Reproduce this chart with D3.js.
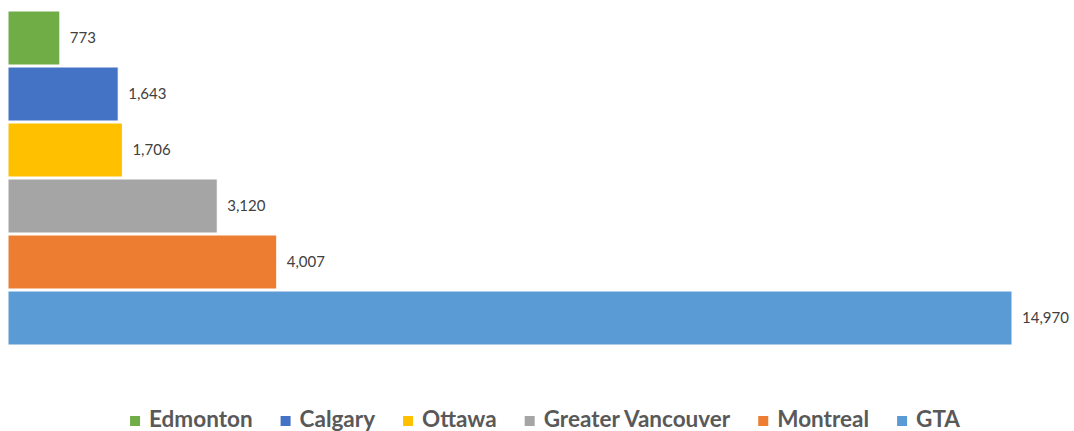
<!DOCTYPE html>
<html>
<head>
<meta charset="utf-8">
<script src="https://cdn.jsdelivr.net/npm/d3@7"></script>
<style>
  body { margin: 0; background: #fff; }
  #wrapper { width: 1074px; height: 431px; }
</style>
</head>
<body>
<div id="wrapper"></div>
<script>
const cities = ["Edmonton", "Calgary", "Ottawa", "Greater Vancouver", "Montreal", "GTA"]
const counts = [773, 1643, 1706, 3120, 4007, 14970]
const colors = ["#70AD47", "#4472C4", "#FFC000", "#A5A5A5", "#ED7D31", "#5B9BD5"]

const dataset = cities.map((c, i) => ({city: c, count: counts[i], color: colors[i]}))

function drawChart() {
    const dimensions = {
        width: 1074,
        height: 431,
        margin: {top: 10, right: 62, bottom: 85, left: 8},
    }

    const svg = d3.select("#wrapper").append("svg")
        .attr("width", dimensions.width)
        .attr("height", dimensions.height)
    const bounds = svg.append("g")
        .attr("transform", `translate(${dimensions.margin.left},${dimensions.margin.top})`)

    const xScale = d3.scaleLinear()
        .domain([0, d3.max(counts)])
        .range([0, 1004])
    const yScale = d3.scaleBand()
        .domain(cities)
        .range([0, 336])

    bounds.selectAll("rect")
        .data(dataset)
        .join("rect")
        .attr("x", 0)
        .attr("y", d => yScale(d.city) + 1)
        .attr("width", d => xScale(d.count))
        .attr("height", yScale.bandwidth() - 2)
        .attr("fill", d => d.color)
        .attr("stroke", "#fff")
        .attr("stroke-width", 1)

    bounds.selectAll("text.val")
        .data(dataset)
        .join("text")
        .attr("class", "val")
        .text(d => d3.format(",")(d.count))
        .attr("x", d => xScale(d.count) + 10)
        .attr("y", d => yScale(d.city) + yScale.bandwidth() / 2)
        .attr("dy", "0.35em")
        .attr("font-family", "Lato, sans-serif")
        .attr("font-size", "15px")
        .attr("fill", "#404040")

    // legend
    const legend = svg.append("g")
    const items = legend.selectAll("g")
        .data(dataset)
        .join("g")
    items.append("rect")
        .attr("width", 10)
        .attr("height", 10)
        .attr("y", -11)
        .attr("fill", d => d.color)
    items.append("text")
        .text(d => d.city)
        .attr("x", 19)
        .attr("font-family", "Lato, sans-serif")
        .attr("font-weight", "bold")
        .attr("font-size", "22.5px")
        .attr("fill", "#595959")

    let x = 0
    const gap = 28
    items.each(function () {
        const w = 19 + d3.select(this).select("text").node().getComputedTextLength()
        d3.select(this).attr("transform", `translate(${x},0)`)
        x += w + gap
    })
    const total = x - gap
    legend.attr("transform", `translate(${(1074 - total) / 2 + 8},427)`)
}

drawChart()
</script>
</body>
</html>
